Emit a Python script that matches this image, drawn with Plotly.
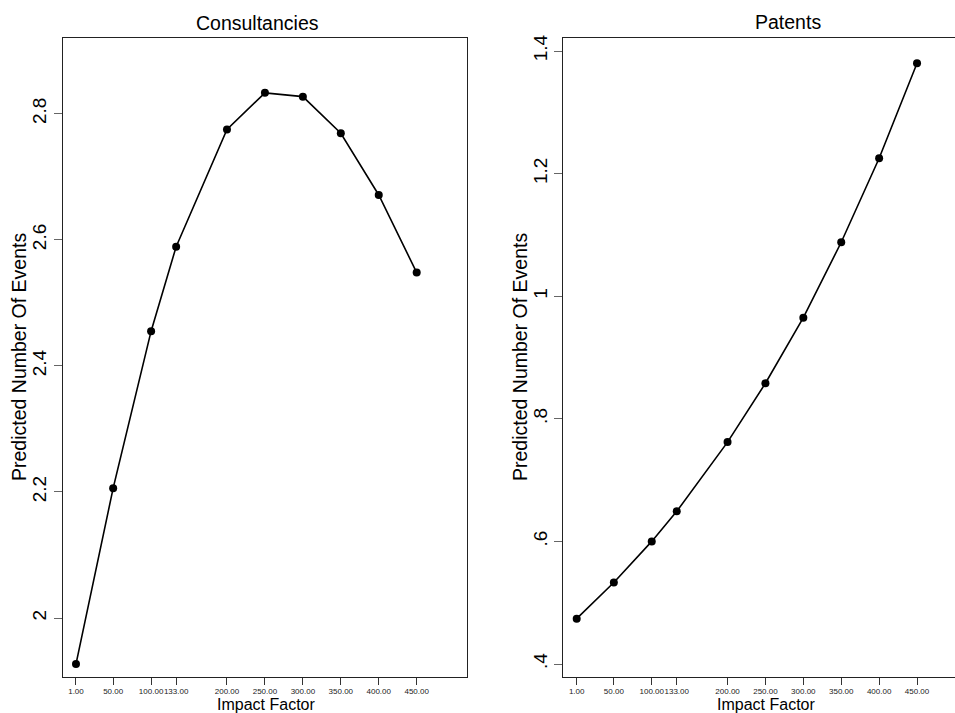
import plotly.graph_objects as go

# Impact factor levels at which predictions were evaluated
impact_factor = [1, 50, 100, 133, 200, 250, 300, 350, 400, 450]
impact_labels = ["1.00", "50.00", "100.00", "133.00", "200.00",
                 "250.00", "300.00", "350.00", "400.00", "450.00"]

# Predicted number of events per outcome
consultancies = [1.927, 2.206, 2.455, 2.589, 2.775, 2.833, 2.827, 2.769, 2.671, 2.548]
patents = [0.474, 0.533, 0.600, 0.649, 0.762, 0.858, 0.965, 1.088, 1.225, 1.380]

# y tick labels
cons_ticks = [2.0, 2.2, 2.4, 2.6, 2.8]
cons_ticktext = ["2", "2.2", "2.4", "2.6", "2.8"]
pat_ticks = [0.4, 0.6, 0.8, 1.0, 1.2, 1.4]
pat_ticktext = [".4", ".6", ".8", "1", "1.2", "1.4"]

W, H = 955, 713
FONT = "Liberation Sans, Arial, Helvetica, sans-serif"


def px_x(p):
    return p / W


def px_y(p):
    return 1 - p / H


fig = go.Figure()

line_style = dict(color="black", width=1.6)
marker_style = dict(color="black", size=8, symbol="circle")

fig.add_trace(go.Scatter(x=impact_factor, y=consultancies, mode="lines+markers",
                         line=line_style, marker=marker_style,
                         xaxis="x", yaxis="y", showlegend=False))
fig.add_trace(go.Scatter(x=impact_factor, y=patents, mode="lines+markers",
                         line=line_style, marker=marker_style,
                         xaxis="x2", yaxis="y2", showlegend=False))

y_dom = [px_y(676.7), px_y(38)]

xaxis_common = dict(
    tickmode="array", tickvals=impact_factor, ticktext=impact_labels,
    ticks="outside", ticklen=7, tickwidth=1, tickcolor="#333", tickangle=0,
    tickfont=dict(family=FONT, size=8, color="#222"),
    showgrid=False, zeroline=False, showline=True, linecolor="#222",
    linewidth=1.3, mirror=True, automargin=False,
)
yaxis_common = dict(
    tickmode="array", ticks="outside", ticklen=8, tickwidth=1,
    tickcolor="#666", tickangle=-90,
    tickfont=dict(family=FONT, size=19, color="black"),
    showgrid=False, zeroline=False, showline=True, linecolor="#222",
    linewidth=1.3, automargin=False, domain=y_dom,
)

fig.update_layout(
    width=W, height=H,
    margin=dict(l=0, r=0, t=0, b=0),
    paper_bgcolor="white", plot_bgcolor="white",
    xaxis=dict(xaxis_common, domain=[px_x(63), px_x(466.7)],
               range=[-16.1, 515.9], anchor="y"),
    yaxis=dict(yaxis_common, range=[1.907, 2.920], tickvals=cons_ticks,
               ticktext=cons_ticktext, mirror=True, anchor="x"),
    xaxis2=dict(xaxis_common, domain=[px_x(563.3), 1.0],
                range=[-16.68, 500.1], anchor="y2"),
    yaxis2=dict(yaxis_common, range=[0.3793, 1.4212], tickvals=pat_ticks,
                ticktext=pat_ticktext, mirror=False, anchor="x2"),
)

annotations = [
    # panel titles
    dict(text="Consultancies", x=px_x(257.5), y=px_y(23), font=dict(size=19.5)),
    dict(text="Patents", x=px_x(788.3), y=px_y(22), font=dict(size=19.5)),
    # x axis titles
    dict(text="Impact Factor", x=px_x(265.5), y=px_y(704.5), font=dict(size=16)),
    dict(text="Impact Factor", x=px_x(765.7), y=px_y(704.5), font=dict(size=16)),
    # y axis titles
    dict(text="Predicted Number Of Events", x=px_x(18.5), y=px_y(357.5),
         textangle=-90, font=dict(size=19.5)),
    dict(text="Predicted Number Of Events", x=px_x(519.5), y=px_y(357.5),
         textangle=-90, font=dict(size=19.5)),
]
for a in annotations:
    a.update(xref="paper", yref="paper", xanchor="center", yanchor="middle",
             showarrow=False)
    a["font"].update(family=FONT, color="black")
fig.update_layout(annotations=annotations)

fig.write_html("out.html")
